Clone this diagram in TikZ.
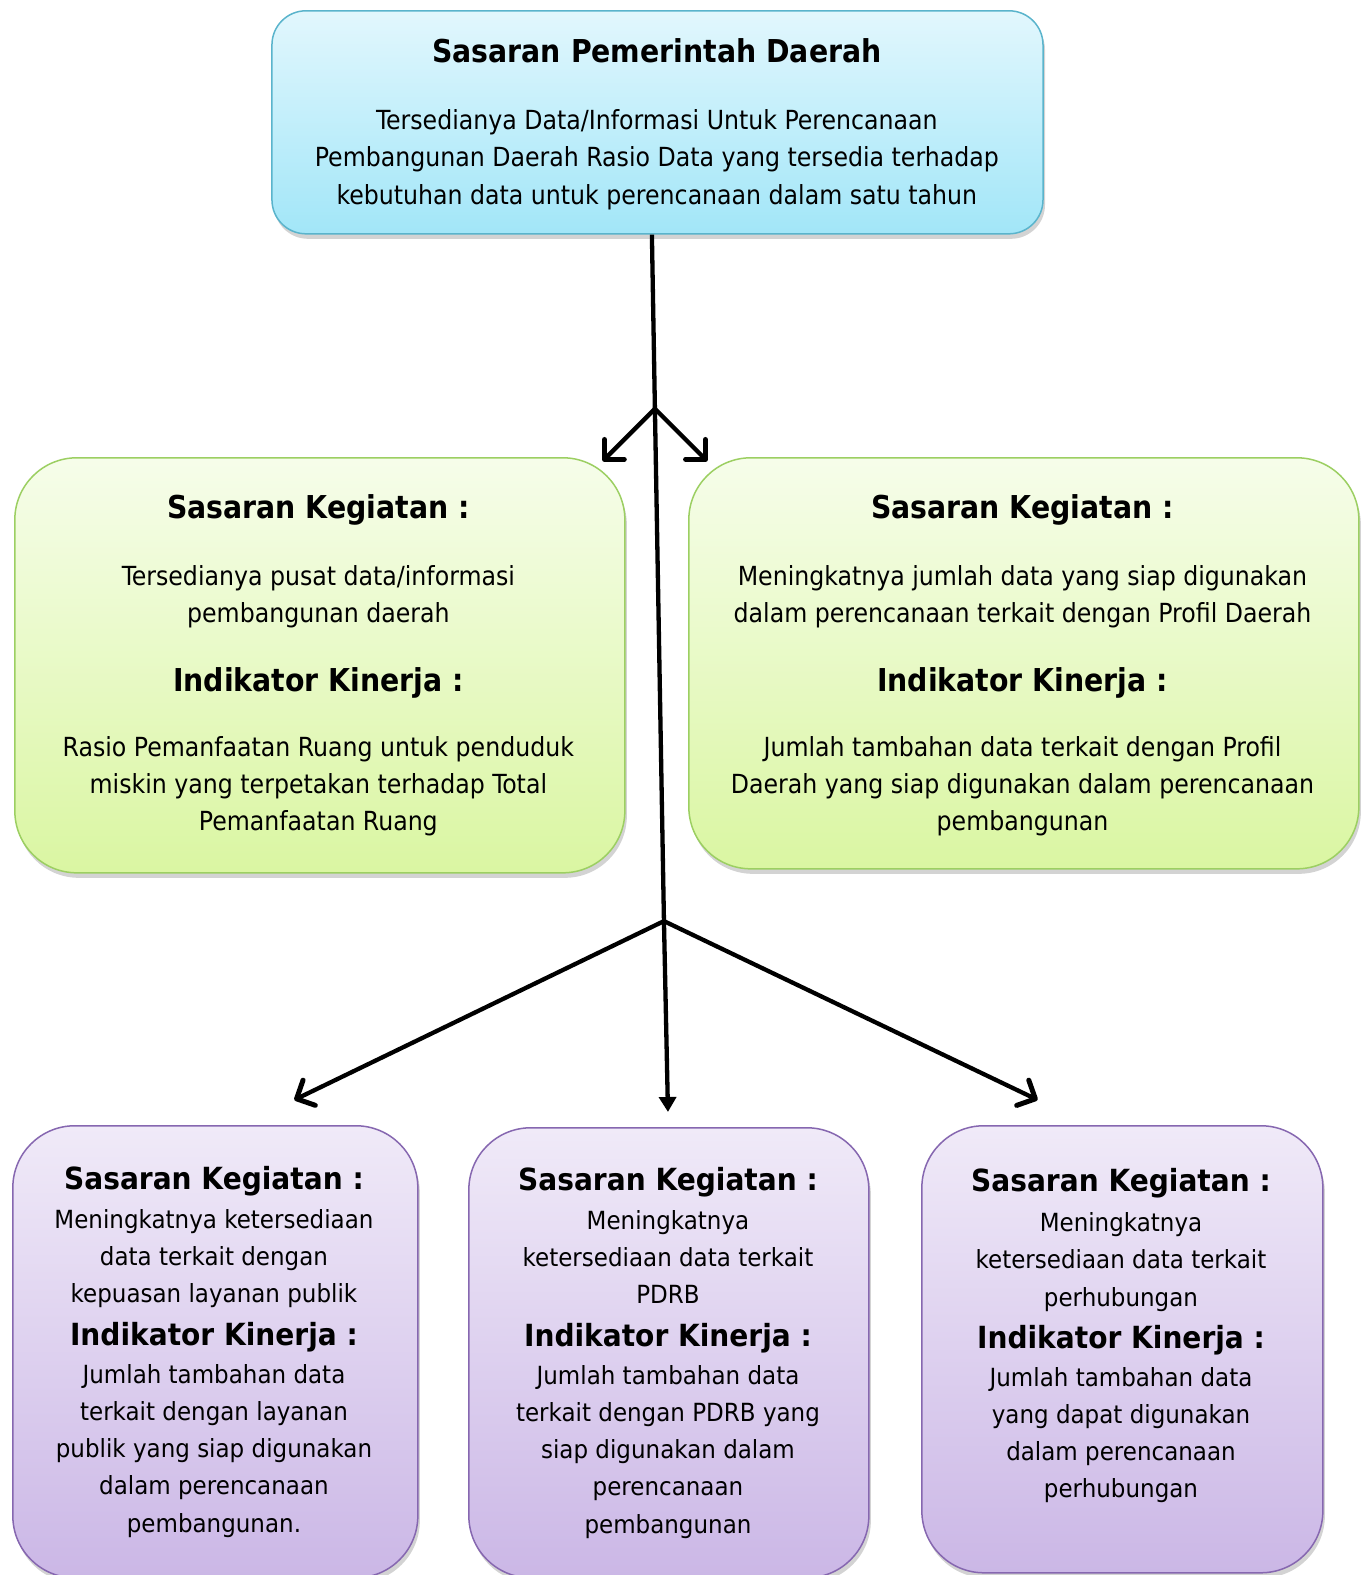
\documentclass[tikz,border=0pt]{standalone}
\usepackage{fontspec}
\setmainfont{DejaVu Sans}
\newfontfamily\condf{DejaVu Sans Condensed}
\newfontfamily\lowf[FakeStretch=0.92]{DejaVu Sans}
\usetikzlibrary{arrows.meta,shadows}
\definecolor{bluetop}{HTML}{E2F7FD}
\definecolor{bluebot}{HTML}{A2E6F8}
\definecolor{blueline}{HTML}{5AB4CC}
\definecolor{greentop}{HTML}{F6FDEA}
\definecolor{greenbot}{HTML}{DAF6A2}
\definecolor{greenline}{HTML}{9CCF62}
\definecolor{purptop}{HTML}{F0EAF8}
\definecolor{purpbot}{HTML}{CBB7E6}
\definecolor{purpline}{HTML}{8667B0}
\tikzset{
  boxbase/.style={draw, line width=1.5pt, anchor=north west, inner sep=0pt,
    drop shadow={opacity=0.35, shadow xshift=2pt, shadow yshift=-5pt}},
  bluebox/.style={boxbase, draw=blueline, top color=bluetop, bottom color=bluebot, rounded corners=34pt},
  greenbox/.style={boxbase, draw=greenline, top color=greentop, bottom color=greenbot, rounded corners=62pt},
  purpbox/.style={boxbase, draw=purpline, top color=purptop, bottom color=purpbot, rounded corners=62pt},
  uptitle/.style={font=\condf\bfseries\fontsize{31.5}{37}\selectfont, inner sep=0pt, anchor=center},
  upbody/.style={font=\condf\fontsize{26.3}{37.2}\selectfont, align=center, inner sep=0pt, anchor=north},
  lowtitle/.style={font=\lowf\bfseries\fontsize{30.5}{36}\selectfont, inner sep=0pt, anchor=center},
  lowbody/.style={font=\lowf\fontsize{25}{37.2}\selectfont, align=center, inner sep=0pt, anchor=north},
  conn/.style={line width=4.3pt, black},
  barb/.style={conn, -{Straight Barb[length=14pt,width=28pt,line width=5pt,round]}},
  tri/.style={conn, -{Triangle[length=15pt,width=17pt]}}
}
\begin{document}
\begin{tikzpicture}[x=1.0044pt,y=-1.0044pt]
\useasboundingbox (0,0) rectangle (1361,1568);
% boxes
\node[bluebox, minimum width=771pt, minimum height=223pt] (top) at (270,10) {};
\node[greenbox, minimum width=610pt, minimum height=415pt] (gl) at (14,455) {};
\node[greenbox, minimum width=670pt, minimum height=411pt] (gr) at (685,455) {};
\node[purpbox, minimum width=405pt, minimum height=452pt] (pl) at (12,1120) {};
\node[purpbox, minimum width=400pt, minimum height=450pt] (pm) at (466,1122) {};
\node[purpbox, minimum width=401pt, minimum height=447pt] (pr) at (917,1120) {};
% top text
\node[uptitle] (tt) at (654,51) {Sasaran Pemerintah Daerah};
\node[upbody] (tb) at (654,109) {Tersedianya Data/Informasi Untuk Perencanaan\\Pembangunan Daerah Rasio Data yang tersedia terhadap\\kebutuhan data untuk perencanaan dalam satu tahun};
% green left
\node[uptitle] (glt1) at (317,508) {Sasaran Kegiatan :};
\node[upbody] (glb1) at (317,563) {Tersedianya pusat data/informasi\\pembangunan daerah};
\node[uptitle] (glt2) at (317,680) {Indikator Kinerja :};
\node[upbody] (glb2) at (317,733) {Rasio Pemanfaatan Ruang untuk penduduk\\miskin yang terpetakan terhadap Total\\Pemanfaatan Ruang};
% green right
\node[uptitle] (grt1) at (1018,508) {Sasaran Kegiatan :};
\node[upbody] (grb1) at (1018,563) {Meningkatnya jumlah data yang siap digunakan\\dalam perencanaan terkait dengan Profil Daerah};
\node[uptitle] (grt2) at (1018,680) {Indikator Kinerja :};
\node[upbody] (grb2) at (1018,733) {Jumlah tambahan data terkait dengan Profil\\Daerah yang siap digunakan dalam perencanaan\\pembangunan};
% purple left
\node[lowtitle] (plt1) at (213,1176) {Sasaran Kegiatan :};
\node[lowbody] (plb1) at (213,1204) {Meningkatnya ketersediaan\\data terkait dengan\\kepuasan layanan publik};
\node[lowtitle] (plt2) at (213,1331) {Indikator Kinerja :};
\node[lowbody] (plb2) at (213,1358) {Jumlah tambahan data\\terkait dengan layanan\\publik yang siap digunakan\\dalam perencanaan\\pembangunan.};
% purple middle
\node[lowtitle] (pmt1) at (665,1177) {Sasaran Kegiatan :};
\node[lowbody] (pmb1) at (665,1205) {Meningkatnya\\ketersediaan data terkait\\PDRB};
\node[lowtitle] (pmt2) at (665,1332) {Indikator Kinerja :};
\node[lowbody] (pmb2) at (665,1359) {Jumlah tambahan data\\terkait dengan PDRB yang\\siap digunakan dalam\\perencanaan\\pembangunan};
% purple right
\node[lowtitle] (prt1) at (1116,1178) {Sasaran Kegiatan :};
\node[lowbody] (prb1) at (1116,1207) {Meningkatnya\\ketersediaan data terkait\\perhubungan};
\node[lowtitle] (prt2) at (1116,1334) {Indikator Kinerja :};
\node[lowbody] (prb2) at (1116,1361) {Jumlah tambahan data\\yang dapat digunakan\\dalam perencanaan\\perhubungan};
% connectors
\coordinate (j1) at (652,407);
\coordinate (j2) at (661,917);
\coordinate (al) at (600,459);
\coordinate (ar) at (704,459);
\coordinate (bl) at (293,1095);
\coordinate (bm) at (665,1107);
\coordinate (br) at (1033,1095);
\draw[conn] (top.south -| 649,0) -- (j1) -- (j2);
\draw[barb] (j1) -- (al);
\draw[barb] (j1) -- (ar);
\draw[barb] (j2) -- (bl);
\draw[tri] (j2) -- (bm);
\draw[barb] (j2) -- (br);
\end{tikzpicture}
\end{document}
